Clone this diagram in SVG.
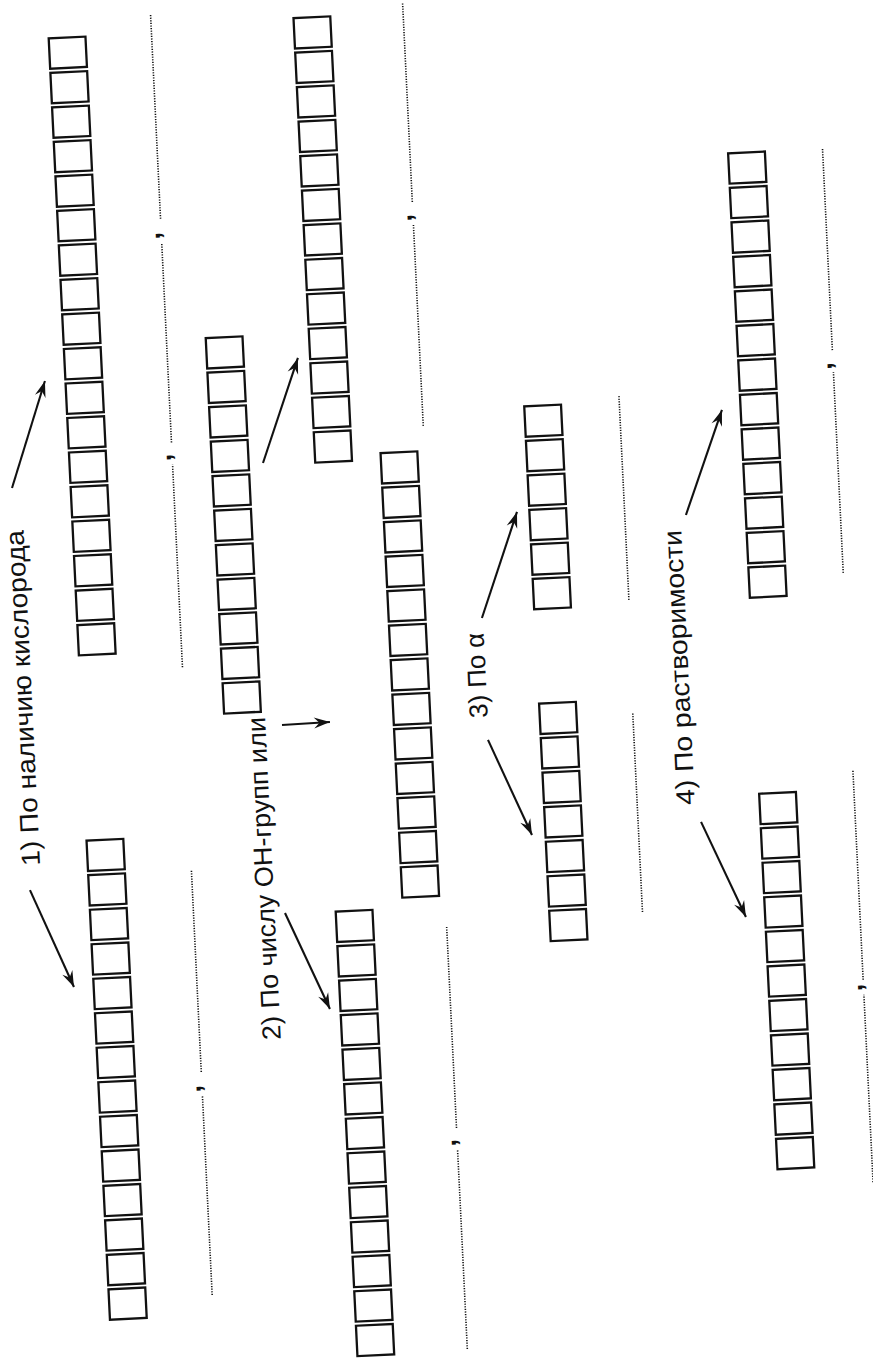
<svg xmlns="http://www.w3.org/2000/svg" width="873" height="1358" viewBox="0 0 873 1358">
<style>
.box{fill:#fff;stroke:#111;stroke-width:2.3}
.lbl{font-family:"Liberation Sans",Arial,sans-serif;font-size:26px;fill:#111}
.dots{stroke:#111;stroke-width:1.6;stroke-dasharray:1.2 1.4;fill:none}
.cm{font-family:"Liberation Sans",Arial,sans-serif;font-size:27px;font-weight:bold;fill:#111}
.arr{stroke:#111;stroke-width:2.1;fill:none;marker-end:url(#ah)}
</style>
<defs>
<marker id="ah" markerUnits="userSpaceOnUse" markerWidth="20" markerHeight="14" viewBox="-17 -7 20 14" refX="0" refY="0" orient="auto"><path d="M0,0 L-16,-5.5 L-10.5,0 L-16,5.5 Z" fill="#111"/></marker>
</defs>
<rect width="873" height="1358" fill="#fff"/>
<g transform="translate(0,1358) rotate(-92.8)">
<g id="col-a" transform="translate(697.9,113.1)">
<rect class="box" x="0" y="0" width="30.4" height="36.8"/><rect class="box" x="34.55" y="0" width="30.4" height="36.8"/><rect class="box" x="69.1" y="0" width="30.4" height="36.8"/><rect class="box" x="103.65" y="0" width="30.4" height="36.8"/><rect class="box" x="138.2" y="0" width="30.4" height="36.8"/><rect class="box" x="172.75" y="0" width="30.4" height="36.8"/><rect class="box" x="207.3" y="0" width="30.4" height="36.8"/><rect class="box" x="241.85" y="0" width="30.4" height="36.8"/><rect class="box" x="276.4" y="0" width="30.4" height="36.8"/><rect class="box" x="310.95" y="0" width="30.4" height="36.8"/><rect class="box" x="345.5" y="0" width="30.4" height="36.8"/><rect class="box" x="380.05" y="0" width="30.4" height="36.8"/><rect class="box" x="414.6" y="0" width="30.4" height="36.8"/><rect class="box" x="449.15" y="0" width="30.4" height="36.8"/><rect class="box" x="483.7" y="0" width="30.4" height="36.8"/><rect class="box" x="518.25" y="0" width="30.4" height="36.8"/><rect class="box" x="552.8" y="0" width="30.4" height="36.8"/><rect class="box" x="587.35" y="0" width="30.4" height="36.8"/>
</g>
<g id="col-b" transform="translate(32.9,111.7)">
<rect class="box" x="0" y="0" width="30.4" height="36.8"/><rect class="box" x="34.55" y="0" width="30.4" height="36.8"/><rect class="box" x="69.1" y="0" width="30.4" height="36.8"/><rect class="box" x="103.65" y="0" width="30.4" height="36.8"/><rect class="box" x="138.2" y="0" width="30.4" height="36.8"/><rect class="box" x="172.75" y="0" width="30.4" height="36.8"/><rect class="box" x="207.3" y="0" width="30.4" height="36.8"/><rect class="box" x="241.85" y="0" width="30.4" height="36.8"/><rect class="box" x="276.4" y="0" width="30.4" height="36.8"/><rect class="box" x="310.95" y="0" width="30.4" height="36.8"/><rect class="box" x="345.5" y="0" width="30.4" height="36.8"/><rect class="box" x="380.05" y="0" width="30.4" height="36.8"/><rect class="box" x="414.6" y="0" width="30.4" height="36.8"/><rect class="box" x="449.15" y="0" width="30.4" height="36.8"/>
</g>
<g id="col-c" transform="translate(632.7,255.3)">
<rect class="box" x="0" y="0" width="30.4" height="36.8"/><rect class="box" x="34.55" y="0" width="30.4" height="36.8"/><rect class="box" x="69.1" y="0" width="30.4" height="36.8"/><rect class="box" x="103.65" y="0" width="30.4" height="36.8"/><rect class="box" x="138.2" y="0" width="30.4" height="36.8"/><rect class="box" x="172.75" y="0" width="30.4" height="36.8"/><rect class="box" x="207.3" y="0" width="30.4" height="36.8"/><rect class="box" x="241.85" y="0" width="30.4" height="36.8"/><rect class="box" x="276.4" y="0" width="30.4" height="36.8"/><rect class="box" x="310.95" y="0" width="30.4" height="36.8"/><rect class="box" x="345.5" y="0" width="30.4" height="36.8"/>
</g>
<g id="col-d" transform="translate(878.9,358.6)">
<rect class="box" x="0" y="0" width="30.4" height="36.8"/><rect class="box" x="34.55" y="0" width="30.4" height="36.8"/><rect class="box" x="69.1" y="0" width="30.4" height="36.8"/><rect class="box" x="103.65" y="0" width="30.4" height="36.8"/><rect class="box" x="138.2" y="0" width="30.4" height="36.8"/><rect class="box" x="172.75" y="0" width="30.4" height="36.8"/><rect class="box" x="207.3" y="0" width="30.4" height="36.8"/><rect class="box" x="241.85" y="0" width="30.4" height="36.8"/><rect class="box" x="276.4" y="0" width="30.4" height="36.8"/><rect class="box" x="310.95" y="0" width="30.4" height="36.8"/><rect class="box" x="345.5" y="0" width="30.4" height="36.8"/><rect class="box" x="380.05" y="0" width="30.4" height="36.8"/><rect class="box" x="414.6" y="0" width="30.4" height="36.8"/>
</g>
<g id="col-e" transform="translate(440.2,424.3)">
<rect class="box" x="0" y="0" width="30.4" height="36.8"/><rect class="box" x="34.55" y="0" width="30.4" height="36.8"/><rect class="box" x="69.1" y="0" width="30.4" height="36.8"/><rect class="box" x="103.65" y="0" width="30.4" height="36.8"/><rect class="box" x="138.2" y="0" width="30.4" height="36.8"/><rect class="box" x="172.75" y="0" width="30.4" height="36.8"/><rect class="box" x="207.3" y="0" width="30.4" height="36.8"/><rect class="box" x="241.85" y="0" width="30.4" height="36.8"/><rect class="box" x="276.4" y="0" width="30.4" height="36.8"/><rect class="box" x="310.95" y="0" width="30.4" height="36.8"/><rect class="box" x="345.5" y="0" width="30.4" height="36.8"/><rect class="box" x="380.05" y="0" width="30.4" height="36.8"/><rect class="box" x="414.6" y="0" width="30.4" height="36.8"/>
</g>
<g id="col-f" transform="translate(-15.6,357.1)">
<rect class="box" x="0" y="0" width="30.4" height="36.8"/><rect class="box" x="34.55" y="0" width="30.4" height="36.8"/><rect class="box" x="69.1" y="0" width="30.4" height="36.8"/><rect class="box" x="103.65" y="0" width="30.4" height="36.8"/><rect class="box" x="138.2" y="0" width="30.4" height="36.8"/><rect class="box" x="172.75" y="0" width="30.4" height="36.8"/><rect class="box" x="207.3" y="0" width="30.4" height="36.8"/><rect class="box" x="241.85" y="0" width="30.4" height="36.8"/><rect class="box" x="276.4" y="0" width="30.4" height="36.8"/><rect class="box" x="310.95" y="0" width="30.4" height="36.8"/><rect class="box" x="345.5" y="0" width="30.4" height="36.8"/><rect class="box" x="380.05" y="0" width="30.4" height="36.8"/><rect class="box" x="414.6" y="0" width="30.4" height="36.8"/>
</g>
<g id="col-g" transform="translate(721.7,570.1)">
<rect class="box" x="0" y="0" width="30.4" height="36.8"/><rect class="box" x="34.55" y="0" width="30.4" height="36.8"/><rect class="box" x="69.1" y="0" width="30.4" height="36.8"/><rect class="box" x="103.65" y="0" width="30.4" height="36.8"/><rect class="box" x="138.2" y="0" width="30.4" height="36.8"/><rect class="box" x="172.75" y="0" width="30.4" height="36.8"/>
</g>
<g id="col-h" transform="translate(389.5,570.4)">
<rect class="box" x="0" y="0" width="30.4" height="36.8"/><rect class="box" x="34.55" y="0" width="30.4" height="36.8"/><rect class="box" x="69.1" y="0" width="30.4" height="36.8"/><rect class="box" x="103.65" y="0" width="30.4" height="36.8"/><rect class="box" x="138.2" y="0" width="30.4" height="36.8"/><rect class="box" x="172.75" y="0" width="30.4" height="36.8"/><rect class="box" x="207.3" y="0" width="30.4" height="36.8"/>
</g>
<g id="col-i" transform="translate(722.7,786.1)">
<rect class="box" x="0" y="0" width="30.4" height="36.8"/><rect class="box" x="34.55" y="0" width="30.4" height="36.8"/><rect class="box" x="69.1" y="0" width="30.4" height="36.8"/><rect class="box" x="103.65" y="0" width="30.4" height="36.8"/><rect class="box" x="138.2" y="0" width="30.4" height="36.8"/><rect class="box" x="172.75" y="0" width="30.4" height="36.8"/><rect class="box" x="207.3" y="0" width="30.4" height="36.8"/><rect class="box" x="241.85" y="0" width="30.4" height="36.8"/><rect class="box" x="276.4" y="0" width="30.4" height="36.8"/><rect class="box" x="310.95" y="0" width="30.4" height="36.8"/><rect class="box" x="345.5" y="0" width="30.4" height="36.8"/><rect class="box" x="380.05" y="0" width="30.4" height="36.8"/><rect class="box" x="414.6" y="0" width="30.4" height="36.8"/>
</g>
<g id="col-j" transform="translate(150.6,785.8)">
<rect class="box" x="0" y="0" width="30.4" height="36.8"/><rect class="box" x="34.55" y="0" width="30.4" height="36.8"/><rect class="box" x="69.1" y="0" width="30.4" height="36.8"/><rect class="box" x="103.65" y="0" width="30.4" height="36.8"/><rect class="box" x="138.2" y="0" width="30.4" height="36.8"/><rect class="box" x="172.75" y="0" width="30.4" height="36.8"/><rect class="box" x="207.3" y="0" width="30.4" height="36.8"/><rect class="box" x="241.85" y="0" width="30.4" height="36.8"/><rect class="box" x="276.4" y="0" width="30.4" height="36.8"/><rect class="box" x="310.95" y="0" width="30.4" height="36.8"/><rect class="box" x="345.5" y="0" width="30.4" height="36.8"/>
</g>
<g id="label-1"><text class="lbl" x="490" y="64" textLength="336" lengthAdjust="spacingAndGlyphs">1) По наличию кислорода</text></g>
<g id="label-2"><text class="lbl" x="304.5" y="296" textLength="323" lengthAdjust="spacingAndGlyphs">2) По числу ОН-групп или</text></g>
<g id="label-3"><text class="lbl" x="616" y="518.5" textLength="85" lengthAdjust="spacingAndGlyphs">3) По α</text></g>
<g id="label-4"><text class="lbl" x="519" y="721" textLength="275" lengthAdjust="spacingAndGlyphs">4) По растворимости</text></g>
<g id="answer-lines">
<path class="dots" d="M681,216 H884 M906,216 H1106 M1130,216 H1334"/>
<text class="cm" x="887.4" y="214.5">,</text><text class="cm" x="1109.4" y="214.5">,</text>
<path class="dots" d="M52.6,215 H252.8 M275.9,215 H478"/>
<text class="cm" x="255.4" y="213.5">,</text>
<path class="dots" d="M910.3,468.3 H1111.4 M1134.5,468.3 H1333.7"/>
<text class="cm" x="1115.1" y="466.8">,</text>
<path class="dots" d="M-13.8,467.2 H185.5 M207.4,467.2 H408.7"/>
<text class="cm" x="189" y="465.7">,</text>
<path class="dots" d="M726.5,665.2 H930.5"/>
<path class="dots" d="M414,663.5 H614"/>
<path class="dots" d="M743,880.6 H944 M966,880.6 H1168"/>
<text class="cm" x="946.4" y="879.1">,</text>
<path class="dots" d="M133,880.6 H320.6 M335.6,880.6 H545.7"/>
<text class="cm" x="324.1" y="879.1">,</text>
</g>
<g id="connectors">
<line class="arr" x1="868.4" y1="54.5" x2="973.6" y2="92.6"/>
<line class="arr" x1="465.9" y1="52.8" x2="367" y2="92"/>
<line class="arr" x1="881.1" y1="306.4" x2="984.3" y2="346.4"/>
<line class="arr" x1="618.4" y1="312.6" x2="619.1" y2="360.6"/>
<line class="arr" x1="430.6" y1="306.4" x2="332.5" y2="346.6"/>
<line class="arr" x1="715.6" y1="517.5" x2="819.8" y2="557.7"/>
<line class="arr" x1="593.5" y1="517.6" x2="496.4" y2="556.9"/>
<line class="arr" x1="808.5" y1="726.3" x2="911.7" y2="767.4"/>
<line class="arr" x1="501.2" y1="726.4" x2="404.1" y2="766.6"/>
</g>
</g>
</svg>
